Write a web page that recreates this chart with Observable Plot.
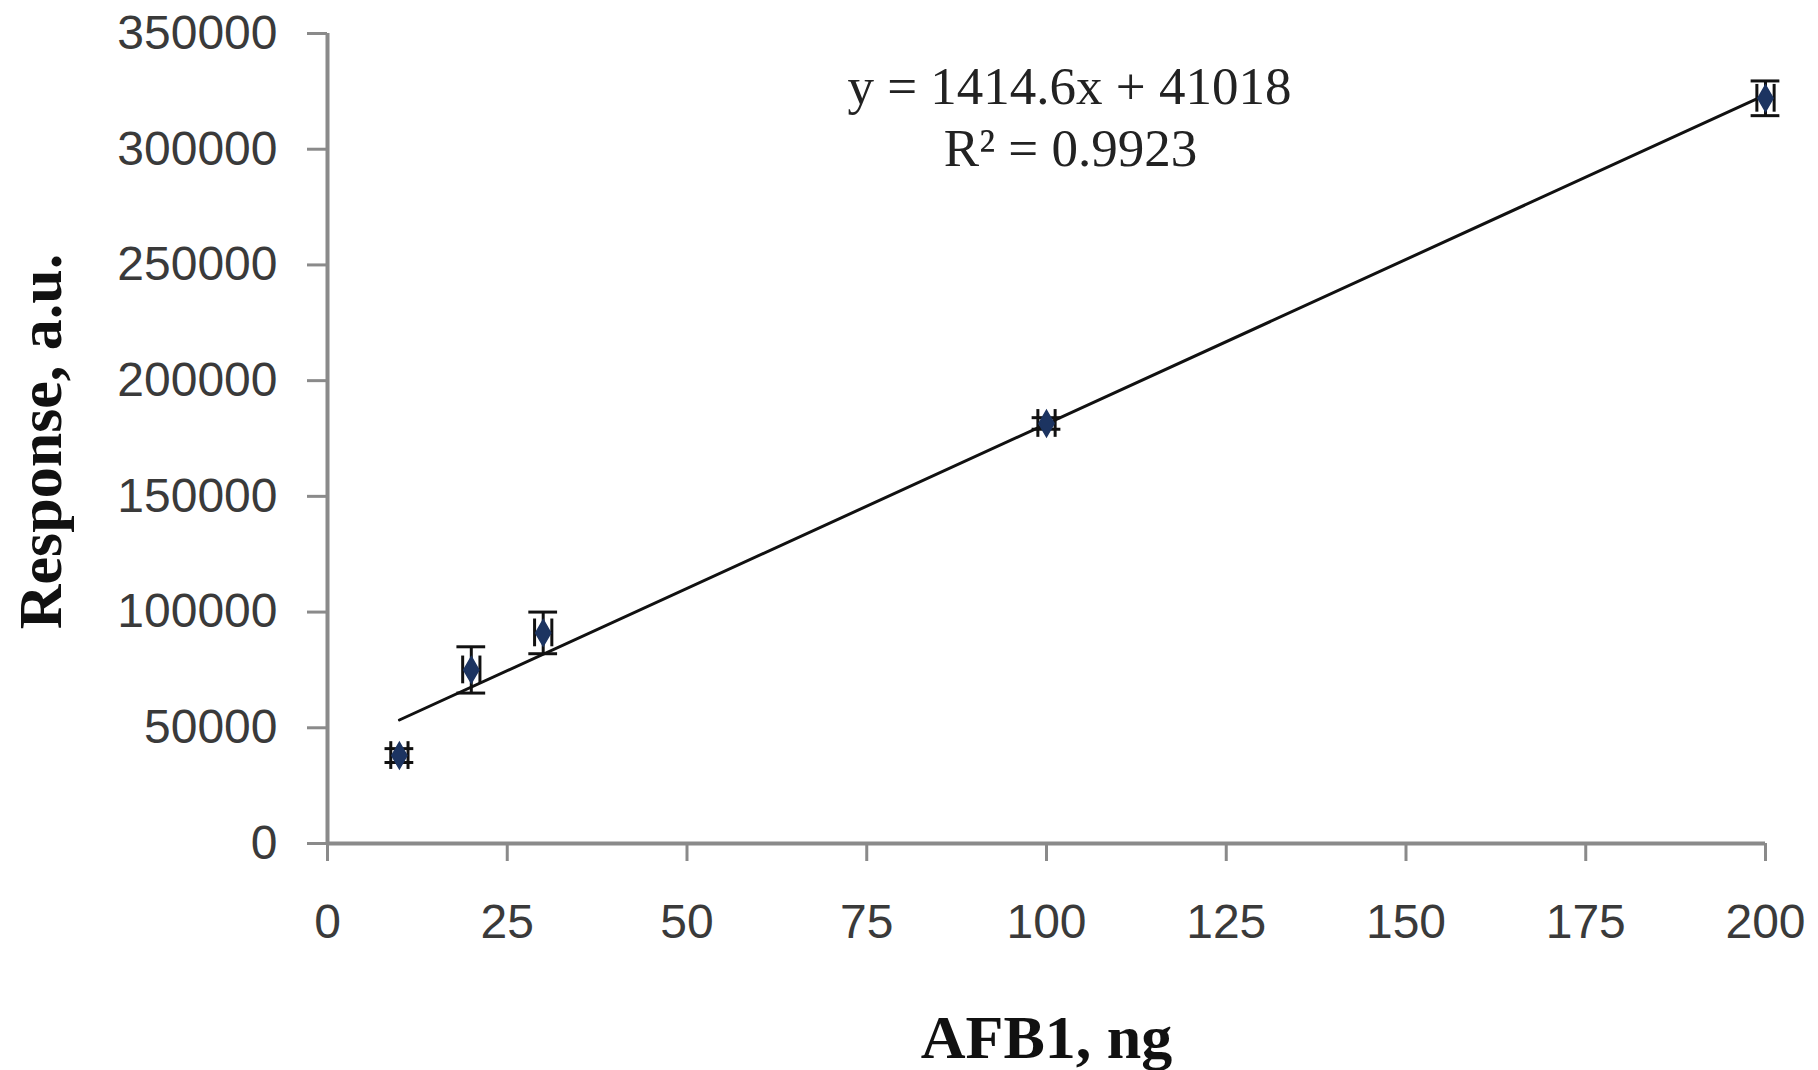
<!DOCTYPE html>
<html>
<head>
<meta charset="utf-8">
<script src="https://cdn.jsdelivr.net/npm/d3@7"></script>
<script src="https://cdn.jsdelivr.net/npm/@observablehq/plot@0.6"></script>
<style>
  html, body { margin: 0; padding: 0; background: #fff; }
</style>
</head>
<body>
<div id="chart"></div>
<script>
// Data
const amounts   = [10, 20, 30, 100, 200];              // AFB1, ng
const responses = [38000, 75000, 91000, 181500, 322000]; // Response, a.u.
const yErrors   = [3000, 10000, 9000, 2500, 7500];
const xErrors   = [1.2, 1.2, 1.2, 1.2, 1.2];
const xTicks = [0, 25, 50, 75, 100, 125, 150, 175, 200];
const yTicks = [0, 50000, 100000, 150000, 200000, 250000, 300000, 350000];
const equationText = "y = 1414.6x + 41018";
const r2Text = "R² = 0.9923";
const xTitle = "AFB1, ng";
const yTitle = "Response, a.u.";

const data = amounts.map((x, i) => ({x, y: responses[i], ey: yErrors[i], ex: xErrors[i]}));

const W = 1818, H = 1070;
const mL = 327, mR = 53, mT = 33, mB = 227;
const capX = 2;      // half cap width in x units
const capY = 6000;   // half cap height in y units
const axisGray = "#8a8a8a";
const textGray = "#3a3a3a";

const plot = Plot.plot({
  width: W, height: H,
  marginLeft: mL, marginRight: mR, marginTop: mT, marginBottom: mB,
  style: {fontFamily: "Liberation Sans, sans-serif", background: "#fff"},
  x: {domain: [0, 200]},
  y: {domain: [0, 350000]},
  marks: [
    // axis lines
    Plot.ruleY([0], {x1: 0, x2: 200, stroke: axisGray, strokeWidth: 4}),
    Plot.ruleX([0], {y1: 0, y2: 350000, stroke: axisGray, strokeWidth: 4}),
    // ticks
    Plot.axisY({ticks: yTicks, tickSize: 20, tickFormat: () => "", stroke: axisGray, strokeWidth: 3, label: null}),
    Plot.axisX({ticks: xTicks, tickSize: 18, tickFormat: () => "", stroke: axisGray, strokeWidth: 3, label: null}),
    // tick labels
    Plot.axisY({ticks: yTicks, tickSize: 0, tickPadding: 50, tickFormat: d3.format("d"), fill: textGray, fontSize: 48, label: null}),
    Plot.axisX({ticks: xTicks, tickSize: 0, tickPadding: 60, fill: textGray, fontSize: 48, label: null}),
    // trendline
    Plot.linearRegressionY(data, {x: "x", y: "y", ci: 0, stroke: "#111", strokeWidth: 3}),
    // vertical error bars
    Plot.ruleX(data, {x: "x", y1: d => d.y - d.ey, y2: d => d.y + d.ey, stroke: "#111", strokeWidth: 3}),
    Plot.ruleY(data, {y: d => d.y - d.ey, x1: d => d.x - capX, x2: d => d.x + capX, stroke: "#111", strokeWidth: 3}),
    Plot.ruleY(data, {y: d => d.y + d.ey, x1: d => d.x - capX, x2: d => d.x + capX, stroke: "#111", strokeWidth: 3}),
    // horizontal error bars
    Plot.ruleY(data, {y: "y", x1: d => d.x - d.ex, x2: d => d.x + d.ex, stroke: "#111", strokeWidth: 3}),
    Plot.ruleX(data, {x: d => d.x - d.ex, y1: d => d.y - capY, y2: d => d.y + capY, stroke: "#111", strokeWidth: 3}),
    Plot.ruleX(data, {x: d => d.x + d.ex, y1: d => d.y - capY, y2: d => d.y + capY, stroke: "#111", strokeWidth: 3}),
    // markers
    Plot.dot(data, {x: "x", y: "y", symbol: "diamond", r: 8, fill: "#1c3461", stroke: "#1c3461"}),
    // equation
    Plot.text([equationText], {text: d => d, frameAnchor: "top", lineAnchor: "middle", dx: 23, dy: 54, fontFamily: "Liberation Serif, serif", fontSize: 53, fill: "#222"}),
    Plot.text([r2Text], {text: d => d, frameAnchor: "top", lineAnchor: "middle", dx: 24, dy: 116, fontFamily: "Liberation Serif, serif", fontSize: 53, fill: "#222"}),
    // axis titles
    Plot.text([xTitle], {text: d => d, frameAnchor: "bottom", lineAnchor: "middle", dx: 0, dy: 195, fontFamily: "Liberation Serif, serif", fontWeight: "bold", fontSize: 62, fill: "#111"}),
    Plot.text([yTitle], {text: d => d, frameAnchor: "left", textAnchor: "middle", lineAnchor: "middle", dx: -286, dy: 3, rotate: -90, fontFamily: "Liberation Serif, serif", fontWeight: "bold", fontSize: 62, fill: "#111"})
  ]
});
document.getElementById("chart").appendChild(plot);
</script>
</body>
</html>
